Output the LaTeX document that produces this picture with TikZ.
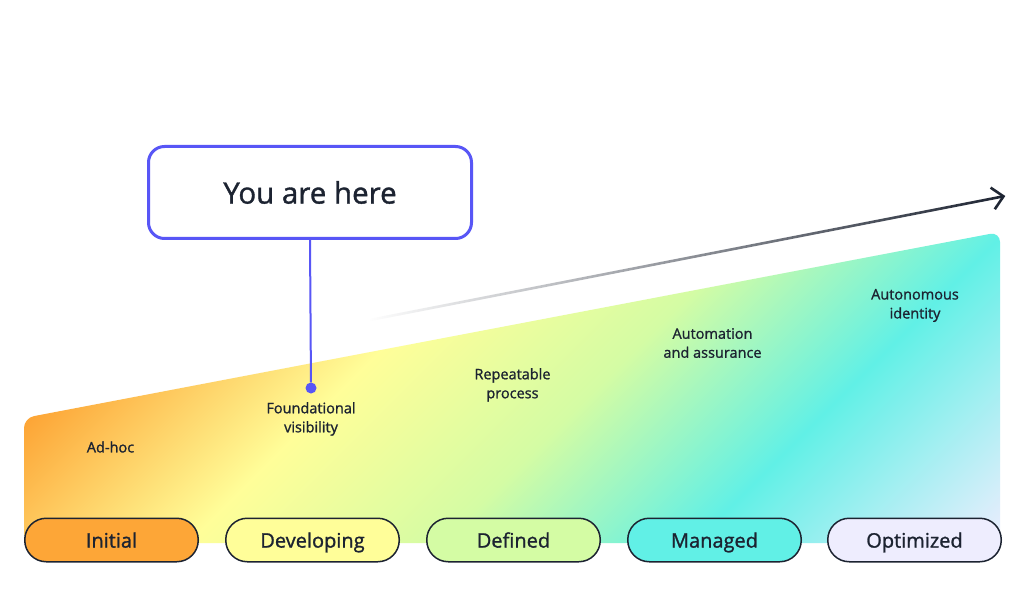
\documentclass[tikz,border=0pt]{standalone}
\usepackage{fontspec}
\setmainfont{Open Sans}[FakeBold=1.2]
\usepackage{xcolor}
\definecolor{ColInk}{RGB}{28,35,49}
\definecolor{ColBlue}{RGB}{88,86,246}
\definecolor{ColInit}{RGB}{253,166,55}
\definecolor{ColDev}{RGB}{255,254,153}
\definecolor{ColDef}{RGB}{212,252,164}
\definecolor{ColMan}{RGB}{97,240,230}
\definecolor{ColOpt}{RGB}{238,237,254}
\usepackage{tikz}
\usetikzlibrary{arrows.meta}
\usetikzlibrary{fadings}
\pgfdeclarehorizontalshading{Stages}{100bp}{color(0bp)=(ColInit);
  color(34bp)=(ColInit); color(44bp)=(ColDev); color(53bp)=(ColDef);
  color(62bp)=(ColMan); color(73bp)=(ColOpt); color(100bp)=(ColOpt)}
\tikzfading[name=TrendFade,left color=transparent!100,right color=transparent!0]
\tikzstyle{Stage}=[draw=ColInk,line width=1.5pt,rounded corners=21.5pt,
minimum width=173.5pt,minimum height=43.5pt,inner sep=0pt,
text height=19pt,text depth=3.8pt,
font=\fontsize{20}{24}\selectfont,text=ColInk]
\tikzstyle{Level}=[align=center,inner sep=0pt,text=ColInk,
font=\fontsize{14.5}{19}\selectfont]
\tikzstyle{Here}=[draw=ColBlue,line width=3pt,rounded corners=16pt,fill=white,
minimum width=323pt,minimum height=92pt,text=ColInk,
font=\fontsize{29.5}{34}\selectfont]
\tikzstyle{Pin}=[draw=ColBlue,line width=2pt]

\begin{document}
\begin{tikzpicture}[x=1pt,y=-1pt]
        \useasboundingbox[fill=white](0,0)rectangle(1028,604);
        \begin{scope}
            \clip[rounded corners=10pt](24,543)--(24,418)--(1000,232)--(1000,543)--cycle;
            \shade[shading=Stages,shading angle=-45](12,-112.5)rectangle(1012,887.5);
        \end{scope}
        \coordinate(s)at(370,320);
        \coordinate(e)at(1006,196);
        \draw[ColInk,line width=2.6pt,path fading=TrendFade,
            -{Straight Barb[length=11pt,width=22pt]}](s)--(e);
        \node[Stage,fill=ColInit](init)at(111.5,540){Initial};
        \node[Stage,fill=ColDev](dev)at(312.5,540){Developing};
        \node[Stage,fill=ColDef](def)at(513.5,540){Defined};
        \node[Stage,fill=ColMan](man)at(714.5,540){Managed};
        \node[Stage,fill=ColOpt](opt)at(914.5,540){Optimized};
        \node[Level](adhoc)at(110.5,447){Ad-hoc};
        \node[Level](found)at(311,419){Foundational\\visibility};
        \node[Level](repeat)at(512.5,385){Repeatable\\process};
        \node[Level](autom)at(712.5,343){Automation\\and assurance};
        \node[Level](auton)at(915,305.5){Autonomous\\identity};
        \node[Here](here)at(310,192.5){You are here};
        \node[circle,fill=ColBlue,inner sep=0pt,minimum size=11pt](dot)at(311,388){};
        \draw[Pin](here.south)--(dot);
    \end{tikzpicture}
\end{document}
